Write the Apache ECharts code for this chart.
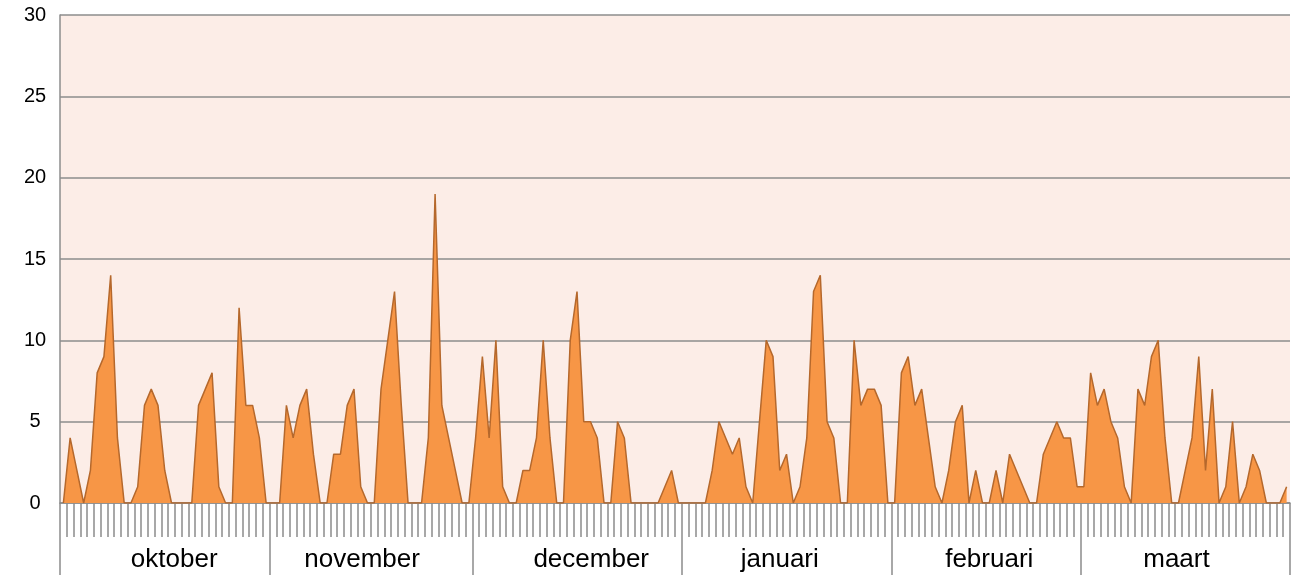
<!DOCTYPE html>
<html>
<head>
<meta charset="utf-8">
<script src="https://cdn.jsdelivr.net/npm/echarts@6/dist/echarts.min.js"></script>
<style>
  html, body { margin: 0; padding: 0; background: #fff; }
  #chart { width: 1291px; height: 576px; }
</style>
</head>
<body>
<div id="chart"></div>
<script>
// months and daily counts
const maanden = ['oktober', 'november', 'december', 'januari', 'februari', 'maart'];
const oktober  = [0,4,2,0,2,8,9,14,4,0,0,1,6,7,6,2,0,0,0,0,6,7,8,1,0,0,12,6,6,4,0];
const november = [0,0,6,4,6,7,3,0,0,3,3,6,7,1,0,0,7,10,13,6,0,0,0,4,19,6,4,2,0,0];
const december = [4,9,4,10,1,0,0,2,2,4,10,4,0,0,10,13,5,5,4,0,0,5,4,0,0,0,0,0,1,2,0];
const januari  = [0,0,0,0,2,5,4,3,4,1,0,5,10,9,2,3,0,1,4,13,14,5,4,0,0,10,6,7,7,6,0];
const februari = [0,8,9,6,7,4,1,0,2,5,6,0,2,0,0,2,0,3,2,1,0,0,3,4,5,4,4,1];
const maart    = [1,8,6,7,5,4,1,0,7,6,9,10,4,0,0,2,4,9,2,7,0,1,5,0,1,3,2,0,0,0,1];
const yTicks = [0, 5, 10, 15, 20, 25, 30];

const perMaand = [oktober, november, december, januari, februari, maart];
const waarden = [].concat(...perMaand);

// one category per day, and month boundaries in day units
const dagen = [];
const grenzen = [0];
perMaand.forEach((m, k) => {
  m.forEach((v, d) => dagen.push(maanden[k] + ' ' + (d + 1)));
  grenzen.push(grenzen[grenzen.length - 1] + m.length);
});
// where the month names sit (in days), as in the original picture
const labelPos = [16.9, 44.7, 78.6, 106.5, 137.5, 165.2];

const grijs = '#8c8c8c';
const font = "'Liberation Sans', Arial, sans-serif";

const option = {
  animation: false,
  grid: {
    left: 60, right: 1, top: 15, bottom: 73,
    show: true,
    backgroundColor: '#fcede7',
    borderWidth: 0
  },
  xAxis: [{
    type: 'category',
    data: dagen,
    boundaryGap: true,
    axisLine: { lineStyle: { color: grijs, width: 1.5 } },
    axisTick: { show: true, interval: 0, length: 34, lineStyle: { color: grijs, width: 1.5 } },
    axisLabel: { show: false },
    splitLine: { show: false }
  }, {
    type: 'value',
    min: 0,
    max: grenzen[grenzen.length - 1],
    position: 'bottom',
    offset: 34,
    axisLine: { show: false },
    axisTick: { show: true, length: 38, customValues: grenzen, lineStyle: { color: grijs, width: 1.5 } },
    axisLabel: {
      customValues: labelPos,
      formatter: v => maanden[labelPos.indexOf(v)],
      color: '#000', fontSize: 26, fontFamily: font, margin: 10
    },
    splitLine: { show: false }
  }],
  yAxis: {
    type: 'value',
    min: yTicks[0],
    max: yTicks[yTicks.length - 1],
    interval: 5,
    axisLine: { show: true, lineStyle: { color: grijs, width: 1.5 } },
    axisTick: { show: false },
    axisLabel: { color: '#000', fontSize: 20, fontFamily: font, margin: 25, align: 'center' },
    splitLine: { lineStyle: { color: grijs, width: 1.5 } }
  },
  series: [{
    type: 'line',
    data: waarden,
    symbol: 'none',
    lineStyle: { color: '#b5682c', width: 1.5 },
    areaStyle: { color: '#f79646', opacity: 1 }
  }]
};

const chart = echarts.init(document.getElementById('chart'));
chart.setOption(option);
</script>
</body>
</html>
